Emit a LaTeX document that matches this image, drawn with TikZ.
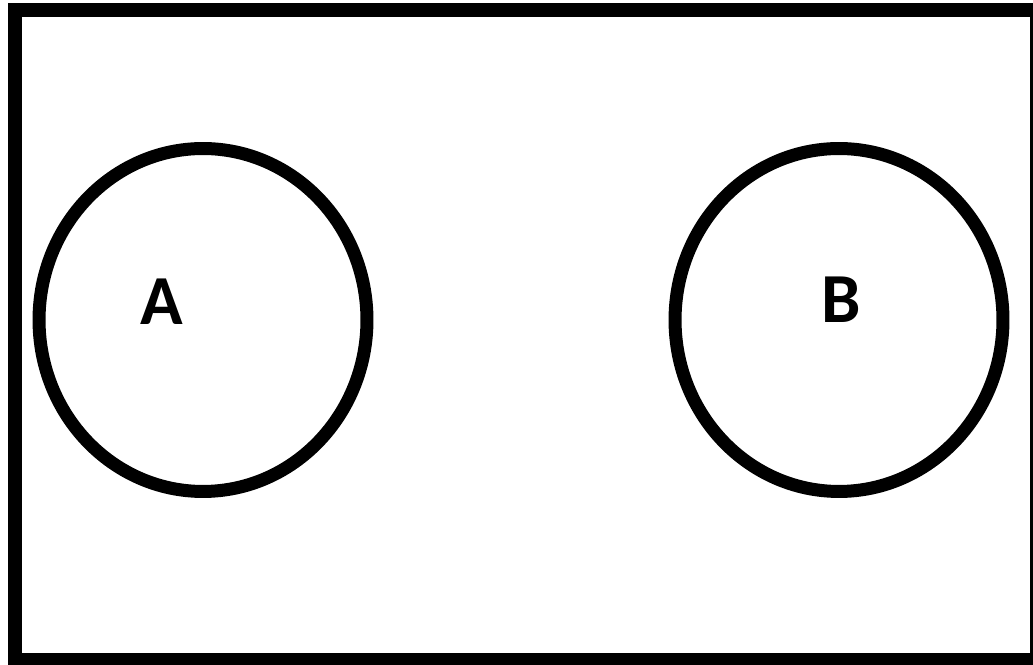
\documentclass[tikz,border=0pt]{standalone}
\usepackage{fontspec}
\setmainfont{Carlito}
\usetikzlibrary{shapes.geometric}
\tikzset{
  frame line/.style={line width=0.28cm,draw=black},
  set shape/.style={ellipse,draw=black,line width=0.26cm,inner sep=0pt,
    minimum width=6.56cm,minimum height=6.86cm},
  set label/.style={font=\fontsize{40}{48}\selectfont\bfseries,text=black,inner sep=0pt}
}
\begin{document}
\begin{tikzpicture}[x=0.02cm,y=0.02cm]
  \useasboundingbox (0,0) rectangle (1033,665);
  \draw[frame line] (15,5) rectangle (1037,655);
  \node[set shape] (setA) at (203,345) {};
  \node[set shape] (setB) at (839,345) {};
  \node[set label] (labA) at (162,363) {A};
  \node[set label] (labB) at (841,365) {B};
\end{tikzpicture}
\end{document}
